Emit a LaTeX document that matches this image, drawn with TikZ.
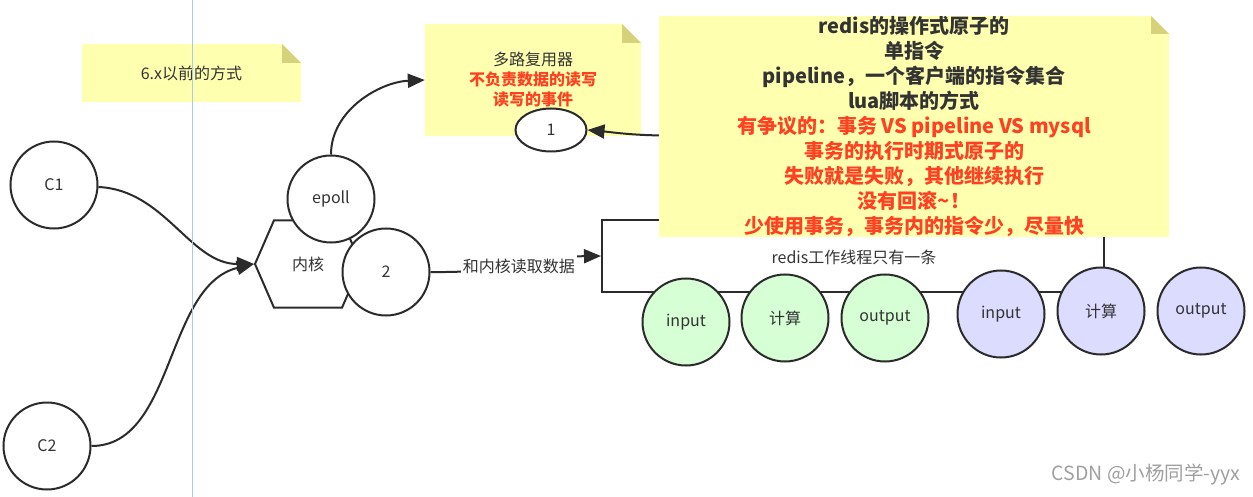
\documentclass[tikz,border=0pt]{standalone}
\usepackage{fontspec}
\usepackage{xcolor}
\setmainfont{Noto Sans CJK SC}
\usetikzlibrary{arrows.meta,shapes.geometric,shapes.symbols}
\definecolor{inkc}{HTML}{2B2B2B}
\definecolor{txtc}{HTML}{333333}
\definecolor{redc}{HTML}{FF4122}
\definecolor{notec}{HTML}{FFFFB0}
\definecolor{foldc}{HTML}{D6D27C}
\definecolor{greenc}{HTML}{D6FFD6}
\definecolor{bluec}{HTML}{DBDCFF}
\definecolor{guidec}{HTML}{A9CBEB}
\tikzset{
    every node/.style={font=\fontsize{16}{20}\selectfont,text=txtc,align=center,inner sep=0pt},
    outline/.style={draw=inkc,line width=2pt},
    ball/.style={outline,circle,fill=white,minimum size=87pt},
    link/.style={draw=inkc,line width=2pt,-{Triangle[length=17pt,width=14pt]}},
    notebox/.style={rectangle,fill=notec,path picture={
        \fill[white] ([xshift=-#1]path picture bounding box.north east) -- (path picture bounding box.north east)
            -- ([yshift=-#1]path picture bounding box.north east) -- cycle;
        \fill[foldc] ([xshift=-#1]path picture bounding box.north east) -- ([xshift=-#1,yshift=-#1]path picture bounding box.north east)
            -- ([yshift=-#1]path picture bounding box.north east) -- cycle;
    }}
}

\begin{document}
\begin{tikzpicture}[x=1pt,y=-1pt]
    \useasboundingbox (0,0) rectangle (1253,497);

    % Draw thread line behind everything
    \node[outline,rectangle,minimum width=502pt,minimum height=72pt] (threadbox) at (853,256) {};

    % Draw sticky notes
    \node[notebox=19pt,minimum width=219pt,minimum height=58pt] (oldnote) at (191.5,73) {6.x以前的方式};
    \node[notebox=19pt,minimum width=216pt,minimum height=112pt] (muxnote) at (533,80) {多路复用器\\
        {\bfseries\color{redc}不负责数据的读写}\\
        {\bfseries\color{redc}读写的事件}};
    \node[notebox=18pt,minimum width=510pt,minimum height=221pt,font=\fontsize{20}{25}\selectfont\bfseries] (atomnote) at (914,126.5) {
        redis的操作式原子的\\
        单指令\\
        pipeline，一个客户端的指令集合\\
        lua脚本的方式\\
        {\color{redc}有争议的：事务 VS pipeline VS mysql}\\
        {\color{redc}事务的执行时期式原子的}\\
        {\color{redc}失败就是失败，其他继续执行}\\
        {\color{redc}没有回滚\textasciitilde！}\\
        {\color{redc}少使用事务，事务内的指令少，尽量快}};

    % Draw clients and kernel
    \node[ball] (cone) at (54,185) {C1};
    \node[ball] (ctwo) at (47,446) {C2};
    \node[outline,signal,signal to=west and east,signal pointer angle=133,
        minimum width=106pt,minimum height=87pt,fill=white] (kernel) at (308,264) {内核};
    \node[ball] (epoll) at (331,199) {epoll};
    \node[ball] (two) at (386,272) {2};
    \node[outline,ellipse,fill=white,minimum width=71pt,minimum height=43pt] (one) at (551,130) {1};

    % Draw thread steps
    \foreach \n/\x/\y/\c/\t in {ina/686/322/greenc/input, calca/785/318/greenc/计算, outa/885/318/greenc/output,
        inb/1001/314/bluec/input, calcb/1101/311/bluec/计算, outb/1201/311/bluec/output} {
        \node[ball,fill=\c] (\n) at (\x,\y) {\t};
    }

    % Draw connectors
    \draw[link] (cone) .. controls (165,190) and (190,264) .. (kernel.west);
    \draw[link] (ctwo.east) .. controls (175,446) and (165,285) .. (kernel.west);
    \draw[link] (epoll.north) .. controls (331,110) and (380,82) .. (muxnote.west);
    \draw[link] (atomnote.182) .. controls (630,135) and (610,132) .. (one.east);
    \draw[link] (two.east) .. controls (520,273) and (520,257) .. (threadbox.west)
        node[pos=0.5,yshift=-2pt,fill=white,inner xsep=2pt,inner ysep=6pt] (readlabel) {和内核读取数据};

    % Labels and the rest
    \node (threadlabel) at (854,257) {redis工作线程只有一条};
    \coordinate (guidetop) at (192.5,0);
    \coordinate (guidebot) at (192.5,497);
    \draw[guidec,line width=0.8pt] (guidetop) -- (guidebot);
    \node[text=gray!75,font=\fontsize{19.5}{22}\selectfont] (mark) at (1146,475) {CSDN @小杨同学-yyx};
\end{tikzpicture}
\end{document}
